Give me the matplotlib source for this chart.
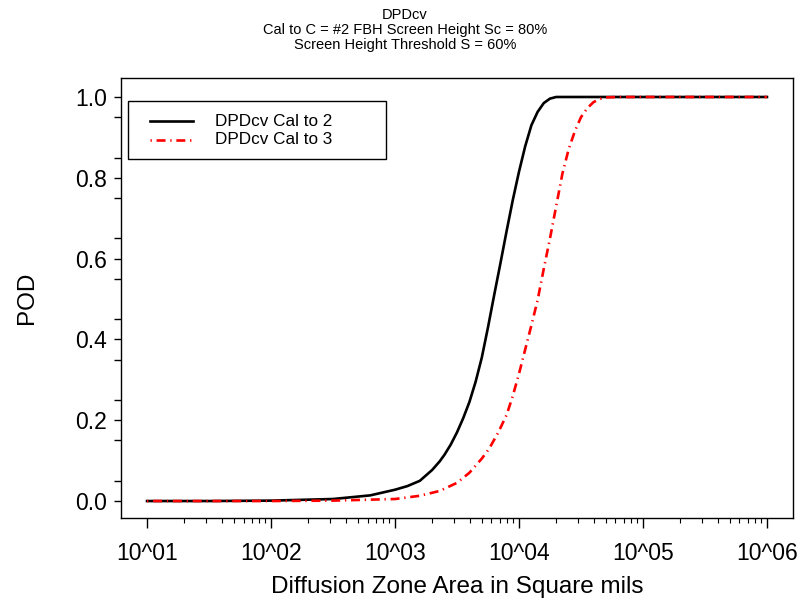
import numpy as np
import matplotlib
matplotlib.use("Agg")
import matplotlib.pyplot as plt
from matplotlib.lines import Line2D
from matplotlib.patches import Rectangle
from matplotlib.ticker import FixedLocator, NullFormatter

plt.rcParams['font.family'] = ['Liberation Sans', 'DejaVu Sans']

# POD curves (log10 of area, POD)
log_area_cal2 = [1.0, 1.5, 2.0, 2.5, 2.8, 3.0, 3.1, 3.2, 3.3, 3.36, 3.4, 3.45, 3.5, 3.55, 3.6,
                 3.65, 3.7, 3.75, 3.8, 3.85, 3.9, 3.95, 4.0, 4.05, 4.1, 4.15, 4.2, 4.25, 4.3,
                 4.4, 5.0, 6.0]
pod_cal2 = [0.0, 0.0, 0.001, 0.005, 0.014, 0.028, 0.037, 0.050, 0.077, 0.098, 0.115, 0.14, 0.17,
            0.205, 0.245, 0.295, 0.355, 0.43, 0.51, 0.588, 0.668, 0.745, 0.815, 0.878, 0.93,
            0.963, 0.985, 0.996, 1.0, 1.0, 1.0, 1.0]

log_area_cal3 = [1.0, 2.0, 2.5, 3.0, 3.2, 3.36, 3.5, 3.6, 3.7, 3.76, 3.83, 3.9, 3.95, 4.0, 4.05,
                 4.1, 4.15, 4.2, 4.25, 4.3, 4.35, 4.4, 4.45, 4.5, 4.55, 4.6, 4.65, 4.7, 4.8,
                 5.0, 6.0]
pod_cal3 = [0.0, 0.0, 0.001, 0.005, 0.013, 0.025, 0.045, 0.07, 0.105, 0.13, 0.168, 0.213, 0.26,
            0.315, 0.375, 0.435, 0.497, 0.575, 0.65, 0.73, 0.81, 0.87, 0.915, 0.95, 0.972,
            0.987, 0.995, 0.999, 1.0, 1.0, 1.0]

series_labels = ["DPDcv Cal to 2", "DPDcv Cal to 3"]

xtick_pos = [1e1, 1e2, 1e3, 1e4, 1e5, 1e6]
xtick_labels = ["10^01", "10^02", "10^03", "10^04", "10^05", "10^06"]
ytick_pos = [0.0, 0.2, 0.4, 0.6, 0.8, 1.0]

title = "DPDcv\nCal to C = #2 FBH Screen Height Sc = 80%\nScreen Height Threshold S = 60%"

# axes box in pixels: left 121, top 78, 672 x 440
fig = plt.figure(figsize=(8.1, 6.03), dpi=100)
ax = fig.add_axes([121/810, 85/603, 672/810, 440/603])

black_style = dict(color="black", linewidth=1.9)
red_style = dict(color="red", linewidth=1.9, dashes=(0.5, 1.8, 3.4, 1.8))

ax.plot(10**np.array(log_area_cal2), pod_cal2, **black_style)
ax.plot(10**np.array(log_area_cal3), pod_cal3, **red_style)

ax.set_xscale("log")
ax.set_xlim(10**0.79, 10**6.21)
ax.set_ylim(-0.042, 1.047)

ax.xaxis.set_major_locator(FixedLocator(xtick_pos))
ax.set_xticklabels(xtick_labels, fontsize=16.5)
minors = [m * 10**d for d in range(1, 6) for m in range(2, 10)]
ax.xaxis.set_minor_locator(FixedLocator(minors))
ax.xaxis.set_minor_formatter(NullFormatter())

ax.yaxis.set_major_locator(FixedLocator(ytick_pos))
ax.set_yticklabels(["%.1f" % v for v in ytick_pos], fontsize=16.5)
ax.yaxis.set_minor_locator(FixedLocator(np.arange(0.05, 1.0, 0.1)))

ax.tick_params(axis="x", which="major", length=7.2, width=1, pad=10)
ax.tick_params(axis="x", which="minor", length=3.6, width=0.8)
ax.tick_params(axis="y", which="both", length=5, width=1, pad=5)

for s in ax.spines.values():
    s.set_linewidth(1)

ax.set_xlabel("Diffusion Zone Area in Square mils", fontsize=17.5, labelpad=8)
ax.set_ylabel("POD", fontsize=17.5, labelpad=27)

fig.text(0.5, 1 - 8/603, title, ha="center", va="top", fontsize=10.5, linespacing=1.08)

# R-style legend box, drawn by hand
W, H = 672.0, 440.0
ax.add_patch(Rectangle((7/W, 1 - 81/H), 258/W, 58/H, transform=ax.transAxes,
                       facecolor="white", edgecolor="black", linewidth=1, zorder=5))
for i, (lab, st) in enumerate(zip(series_labels, [black_style, red_style])):
    yy = 1 - (43 + 19*i)/H
    ax.add_line(Line2D([29/W, 72/W], [yy, yy], transform=ax.transAxes, zorder=6, **st))
    ax.text(94/W, yy, lab, transform=ax.transAxes, fontsize=12.3, va="center", ha="left",
            zorder=6)

fig.savefig("out.png", dpi=100)
